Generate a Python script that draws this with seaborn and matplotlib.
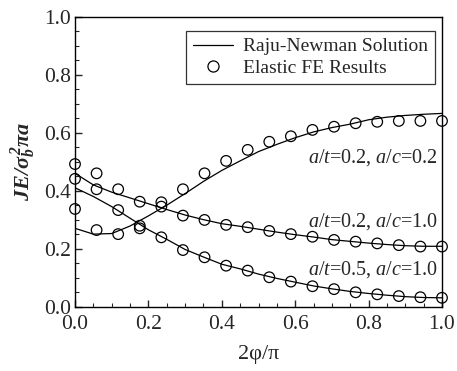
import matplotlib
matplotlib.use("Agg")
import matplotlib.pyplot as plt
from matplotlib.lines import Line2D
from matplotlib.ticker import MultipleLocator, FormatStrFormatter
import numpy as np
import pandas as pd
import seaborn as sns

# ---- data ----
# FE results sampled at 2phi/pi = k/17
fe_x = [k / 17 for k in range(18)]
fe_ac02 = [0.337, 0.264, 0.250, 0.270, 0.360, 0.405, 0.460, 0.503, 0.541,
           0.569, 0.588, 0.610, 0.621, 0.633, 0.638, 0.641, 0.641, 0.641]
fe_at02_ac10 = [0.441, 0.405, 0.405, 0.362, 0.345, 0.314, 0.299, 0.282, 0.274,
                0.261, 0.250, 0.241, 0.230, 0.224, 0.218, 0.212, 0.207, 0.207]
fe_at05_ac10 = [0.492, 0.460, 0.333, 0.279, 0.239, 0.195, 0.170, 0.141, 0.124,
                0.101, 0.086, 0.070, 0.060, 0.049, 0.042, 0.036, 0.032, 0.030]

# Raju-Newman solution
rn_x = [0.0, 0.05, 0.1, 0.15, 0.2, 0.25, 0.3, 0.35, 0.4, 0.45, 0.5,
        0.55, 0.6, 0.65, 0.7, 0.75, 0.8, 0.85, 0.9, 0.95, 1.0]
rn_ac02 = [0.270, 0.250, 0.252, 0.278, 0.313, 0.350, 0.390, 0.432, 0.470, 0.503,
           0.535, 0.560, 0.583, 0.603, 0.618, 0.630, 0.645, 0.654, 0.660, 0.664, 0.667]
rn_at02_ac10 = [0.460, 0.420, 0.395, 0.375, 0.355, 0.335, 0.316, 0.300, 0.286, 0.277,
                0.267, 0.257, 0.248, 0.240, 0.231, 0.225, 0.219, 0.214, 0.210, 0.208, 0.208]
rn_at05_ac10 = [0.410, 0.380, 0.345, 0.305, 0.265, 0.232, 0.197, 0.171, 0.146, 0.130,
                0.112, 0.097, 0.084, 0.071, 0.061, 0.052, 0.045, 0.039, 0.034, 0.031, 0.030]

case_labels = ["a/t=0.2, a/c=0.2", "a/t=0.2, a/c=1.0", "a/t=0.5, a/c=1.0"]
case_math = [r"$a/t$=0.2, $a/c$=0.2", r"$a/t$=0.2, $a/c$=1.0", r"$a/t$=0.5, $a/c$=1.0"]
case_label_pos = [(0.99, 0.516), (0.99, 0.293), (0.99, 0.126)]
legend_labels = ["Raju-Newman Solution", "Elastic FE Results"]
x_label = "2φ/π"
y_label = r"$\mathbf{JE/\sigma_b^{\,2}\pi a}$"

# ---- long-form tables ----
fe_df = pd.concat([
    pd.DataFrame({"x": fe_x, "y": v, "case": c})
    for v, c in zip([fe_ac02, fe_at02_ac10, fe_at05_ac10], case_labels)
])
rn_df = pd.concat([
    pd.DataFrame({"x": rn_x, "y": v, "case": c})
    for v, c in zip([rn_ac02, rn_at02_ac10, rn_at05_ac10], case_labels)
])

sns.set_style("white")
plt.rcParams["font.family"] = ["Liberation Serif", "DejaVu Serif"]
plt.rcParams["mathtext.fontset"] = "custom"
plt.rcParams["mathtext.rm"] = "Liberation Serif"
plt.rcParams["mathtext.it"] = "Liberation Serif:italic"
plt.rcParams["mathtext.bf"] = "Liberation Serif:bold:italic"

fig = plt.figure(figsize=(4.57, 3.71), dpi=100)
ax = fig.add_axes([75 / 457, 1 - 306.5 / 371, 367 / 457, 289.5 / 371])

sns.lineplot(data=rn_df, x="x", y="y", units="case", estimator=None,
             color="black", linewidth=0.9, ax=ax, legend=False, sort=False)
sns.scatterplot(data=fe_df, x="x", y="y", marker="o", s=58,
                facecolor="none", edgecolor="black", linewidth=0.9,
                ax=ax, legend=False, clip_on=False, zorder=3)

ax.set_xlim(0, 1.0)
ax.set_ylim(0, 1.0)
ax.xaxis.set_major_locator(MultipleLocator(0.2))
ax.xaxis.set_minor_locator(MultipleLocator(0.05))
ax.yaxis.set_major_locator(MultipleLocator(0.2))
ax.yaxis.set_minor_locator(MultipleLocator(0.05))
ax.xaxis.set_major_formatter(FormatStrFormatter("%.1f"))
ax.yaxis.set_major_formatter(FormatStrFormatter("%.1f"))
ax.tick_params(which="both", direction="in", bottom=True, left=True,
               top=False, right=False, labelsize=15.5)
ax.tick_params(axis="x", which="major", pad=6)
ax.tick_params(axis="y", which="major", pad=3)
ax.tick_params(which="major", length=5, width=1.0)
ax.tick_params(which="minor", length=3, width=0.8)
for sp in ax.spines.values():
    sp.set_color("black")
    sp.set_linewidth(1.0)

ax.set_xlabel(x_label, fontsize=16, labelpad=8)
ax.set_ylabel(y_label, fontsize=16, labelpad=4)

for txt, (tx, ty) in zip(case_math, case_label_pos):
    ax.text(tx, ty, txt, fontsize=14.5, ha="right", va="center")

handles = [
    Line2D([], [], color="black", linewidth=0.9),
    Line2D([], [], color="black", marker="o", linestyle="none",
           markerfacecolor="none", markersize=8, markeredgewidth=0.9),
]
leg = ax.legend(handles, legend_labels, loc="upper right",
                bbox_to_anchor=(0.981, 0.952), borderaxespad=0,
                fontsize=14, frameon=True, fancybox=False,
                handlelength=2.1, handletextpad=0.5, labelspacing=0.2,
                borderpad=0.35)
leg.get_frame().set_edgecolor("black")
leg.get_frame().set_linewidth(0.9)

fig.savefig("out.png", dpi=100)
